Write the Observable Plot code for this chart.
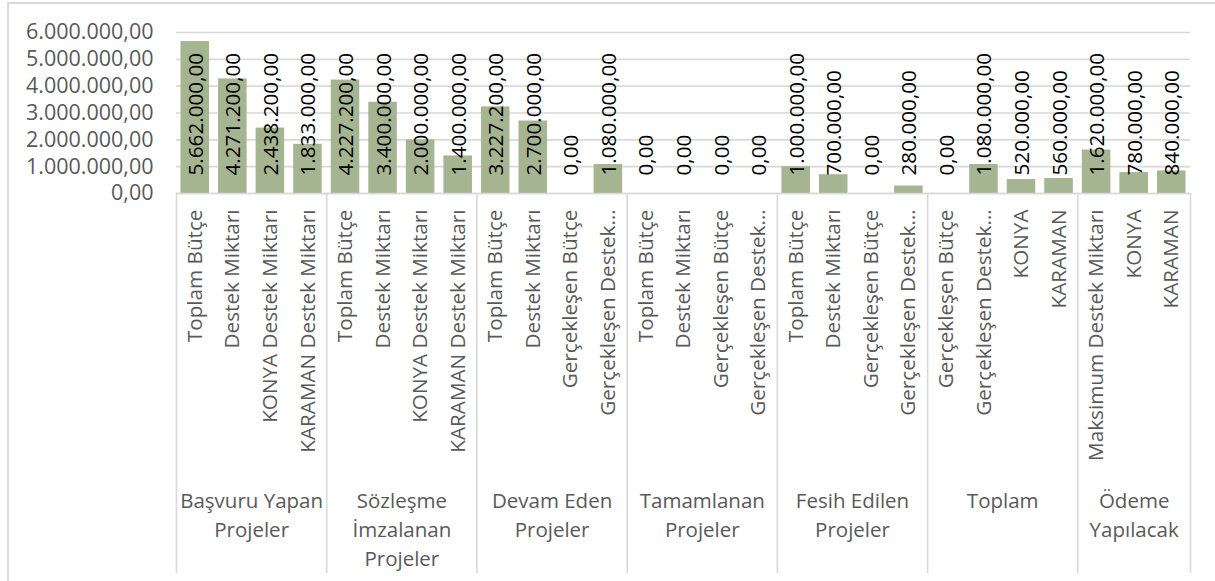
<!DOCTYPE html>
<html>
<head>
<meta charset="utf-8">
<script src="https://cdn.jsdelivr.net/npm/d3@7"></script>
<script src="https://cdn.jsdelivr.net/npm/@observablehq/plot@0.6"></script>
<style>
  html, body { margin: 0; padding: 0; background: #fff; overflow: hidden; width: 1215px; height: 581px; }
  #frame { position: absolute; left: 7px; top: 2px; width: 1300px; height: 700px; border: 2px solid #d9d9d9; box-sizing: border-box; }
  #chart { position: absolute; left: 0; top: 0; }
</style>
</head>
<body>
<div id="frame"></div>
<div id="chart"></div>
<script>
// ---- data ----
const groupNames = [
  "Başvuru Yapan\nProjeler",
  "Sözleşme\nİmzalanan\nProjeler",
  "Devam Eden\nProjeler",
  "Tamamlanan\nProjeler",
  "Fesih Edilen\nProjeler",
  "Toplam",
  "Ödeme\nYapılacak"
];
const groupSizes = [4, 4, 4, 4, 4, 4, 3];
const categories = [
  "Toplam Bütçe", "Destek Miktarı", "KONYA Destek Miktarı", "KARAMAN Destek Miktarı",
  "Toplam Bütçe", "Destek Miktarı", "KONYA Destek Miktarı", "KARAMAN Destek Miktarı",
  "Toplam Bütçe", "Destek Miktarı", "Gerçekleşen Bütçe", "Gerçekleşen Destek…",
  "Toplam Bütçe", "Destek Miktarı", "Gerçekleşen Bütçe", "Gerçekleşen Destek…",
  "Toplam Bütçe", "Destek Miktarı", "Gerçekleşen Bütçe", "Gerçekleşen Destek…",
  "Gerçekleşen Bütçe", "Gerçekleşen Destek…", "KONYA", "KARAMAN",
  "Maksimum Destek Miktarı", "KONYA", "KARAMAN"
];
const values = [
  5662000, 4271200, 2438200, 1833000,
  4227200, 3400000, 2000000, 1400000,
  3227200, 2700000, 0, 1080000,
  0, 0, 0, 0,
  1000000, 700000, 0, 280000,
  0, 1080000, 520000, 560000,
  1620000, 780000, 840000
];
const yTicks = [0, 1000000, 2000000, 3000000, 4000000, 5000000, 6000000];

// ---- derived tables ----
const fmt = d3.formatLocale({decimal: ",", thousands: ".", grouping: [3], currency: ["", ""]}).format(",.2f");
const data = categories.map((c, i) => ({id: i, label: c, value: values[i]}));
let start = 0;
const groups = groupNames.map((name, k) => {
  const g = {name, first: start, last: start + groupSizes[k] - 1, size: groupSizes[k]};
  start += groupSizes[k];
  return g;
});

// ---- layout ----
const W = 1215, H = 581;
const mL = 176, mR = 25, mT = 32, mB = 388;
const n = categories.length;
const step = (W - mL - mR) / n;
const pad = 0.24;
// band range chosen so that the category slots exactly fill [mL, W - mR]
const r0 = mL + step * (pad / 2) - step * pad;
const r1 = r0 + step * (n - pad + 2 * pad);
const gray = "#d9d9d9", textGray = "#595959", barColor = "#a5b491";
const fsAxis = 21.5, fsCat = 20.7, fsVal = 20.7, fsGroup = 20.5;

const chart = Plot.plot({
  width: W,
  height: H,
  marginLeft: mL,
  marginRight: mR,
  marginTop: mT,
  marginBottom: mB,
  style: {fontFamily: "'Open Sans', sans-serif", fontSize: "19px", background: "transparent", overflow: "visible"},
  x: {type: "band", domain: data.map(d => d.id), padding: pad, range: [r0, r1], round: false},
  y: {domain: [0, 6000000]},
  marks: [
    Plot.gridY(yTicks, {stroke: gray, strokeOpacity: 1, strokeWidth: 1.6}),
    Plot.barY(data, {x: "id", y: "value", fill: barColor}),
    // group separators across the category axis
    Plot.ruleX(groups, {x: "first", dx: -step / 2, insetTop: (H - mB) - mT, insetBottom: -380, stroke: gray, strokeWidth: 1.6}),
    Plot.ruleX(groups.slice(-1), {x: "last", dx: step / 2, insetTop: (H - mB) - mT, insetBottom: -380, stroke: gray, strokeWidth: 1.6}),
    Plot.ruleY([0], {stroke: gray, strokeWidth: 1.6}),
    Plot.axisY(yTicks, {tickSize: 0, tickPadding: 23, tickFormat: fmt, label: null, fill: textGray, fontSize: fsAxis}),
    Plot.axisX({tickSize: 0, tickPadding: 16, tickRotate: -90, tickFormat: i => categories[i], label: null, fill: textGray, fontSize: fsCat}),
    // value labels (inside base), shifted so the rotated glyphs sit centred on the bar
    Plot.text(data, {x: "id", frameAnchor: "bottom", text: d => fmt(d.value), rotate: -90, textAnchor: "start", dy: -18, dx: 0.36 * fsVal, fill: "#000", fontSize: fsVal}),
    // group labels
    ...groups.map(g => Plot.text([g], {
      x: "first", text: "name", frameAnchor: "bottom", dy: 294, dx: (g.size - 1) * step / 2,
      lineAnchor: "top", lineHeight: 29 / fsGroup, fill: textGray, fontSize: fsGroup, textAnchor: "middle"
    }))
  ]
});
document.getElementById("chart").appendChild(chart);
</script>
</body>
</html>
